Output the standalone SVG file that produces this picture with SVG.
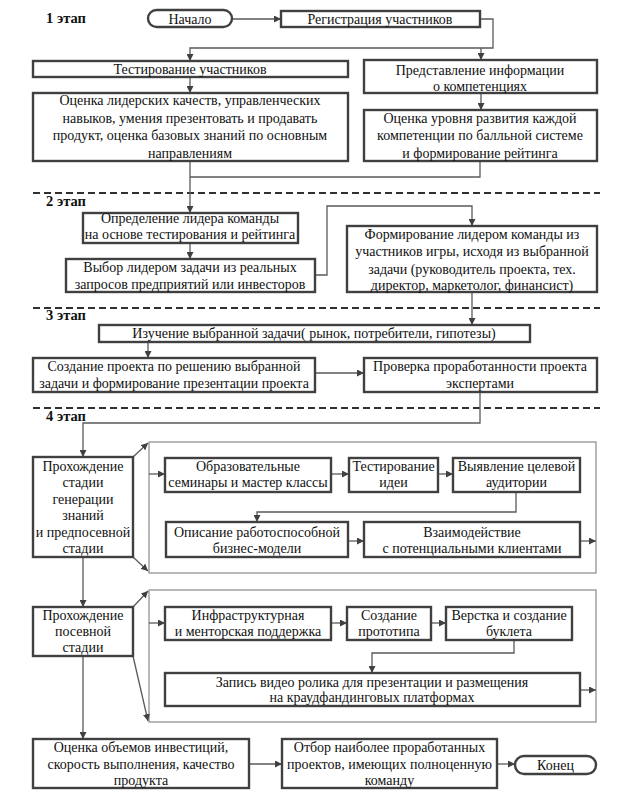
<svg xmlns="http://www.w3.org/2000/svg" width="626" height="794" viewBox="0 0 626 794" font-family="'Liberation Serif', 'DejaVu Serif', 'Times New Roman', serif">
<defs>
<marker id="ar" markerWidth="7" markerHeight="7" refX="7" refY="3.5" orient="auto" markerUnits="userSpaceOnUse">
<path d="M0,0 L7,3.5 L0,7 z" fill="#404040"/>
</marker>
<style>
.b{fill:#fff;stroke:#404040;stroke-width:2.4}
.f{fill:none;stroke:#8a8a8a;stroke-width:1.2}
.c{fill:none;stroke:#5a5a5a;stroke-width:1.3}
.a{marker-end:url(#ar)}
.d{stroke:#303030;stroke-width:2;stroke-dasharray:7,4;fill:none}
text{font-family:'Liberation Serif','DejaVu Serif','Times New Roman',serif;font-size:14px;fill:#111;text-anchor:middle}
.s{font-weight:bold;font-size:14.5px;text-anchor:start}
</style>
</defs>
<rect width="626" height="794" fill="#fff"/>
<g id="dividers">
<line class="d" x1="33" y1="193" x2="600" y2="193"/>
<line class="d" x1="33" y1="308" x2="600" y2="308"/>
<line class="d" x1="33" y1="408" x2="600" y2="408"/>
<text class="s" x="46" y="23">1 этап</text>
<text class="s" x="46" y="206">2 этап</text>
<text class="s" x="46" y="320">3 этап</text>
<text class="s" x="46" y="421">4 этап</text>
</g>
<g id="frames">
<rect class="f" x="149" y="442" width="447" height="131"/>
<rect class="f" x="149" y="590" width="447" height="132"/>
</g>
<g id="connectors">
<path class="c a" d="M232,19 H281"/>
<path class="c a" d="M480,19 H493 V48 H190 V61"/>
<path class="c a" d="M481,48 V60"/>
<path class="c a" d="M190,77 V93"/>
<path class="c a" d="M481,93 V110"/>
<path class="c a" d="M190,161 V213"/>
<path class="c" d="M480,161 V177 H190"/>
<path class="c a" d="M190,243 V259"/>
<path class="c a" d="M315,275 H327 V206 H472 V226"/>
<path class="c a" d="M472,292 V325"/>
<path class="c a" d="M148,342 V358"/>
<path class="c a" d="M315,373 H364"/>
<path class="c a" d="M480,392 V423 H83 V457"/>
<path class="c a" d="M133,457 L148,443"/>
<path class="c a" d="M133,557 L148,571"/>
<path class="c a" d="M149,474 H165"/>
<path class="c a" d="M331,474 H349"/>
<path class="c a" d="M438,474 H453"/>
<path class="c a" d="M516,492 V512 H257 V522"/>
<path class="c a" d="M348,541 H364"/>
<path class="c a" d="M580,541 H596"/>
<path class="c a" d="M83,557 V607"/>
<path class="c a" d="M133,607 L148,591"/>
<path class="c a" d="M133,656 L148,721"/>
<path class="c a" d="M149,623 H165"/>
<path class="c a" d="M331,623 H347"/>
<path class="c a" d="M431,623 H446"/>
<path class="c a" d="M514,640 V653 H372 V673"/>
<path class="c a" d="M580,690 H596"/>
<path class="c a" d="M83,656 V739"/>
<path class="c a" d="M249,764 H282"/>
<path class="c a" d="M497,764 H515"/>
</g>
<g id="start"><rect class="b" x="148" y="10" width="84" height="17" rx="8.5"/><text x="190" y="23.5">Начало</text></g>
<g id="registration"><rect class="b" x="281" y="11" width="199" height="16"/><text x="380" y="23.5">Регистрация участников</text></g>
<g id="testing"><rect class="b" x="33" y="61" width="315" height="16"/><text x="190" y="73.5">Тестирование участников</text></g>
<g id="info"><rect class="b" x="364" y="60" width="233" height="33"/><text x="480" y="75">Представление информации</text><text x="480" y="91">о компетенциях</text></g>
<g id="leader-eval"><rect class="b" x="33" y="93" width="315" height="68"/><text x="190" y="105">Оценка лидерских качеств, управленческих</text><text x="190" y="122.5">навыков, умения презентовать и продавать</text><text x="190" y="140">продукт,  оценка базовых знаний по основным</text><text x="190" y="157.5">направлениям</text></g>
<g id="comp-eval"><rect class="b" x="364" y="110" width="233" height="51"/><text x="480" y="122.5">Оценка уровня развития каждой</text><text x="480" y="140">компетенции по балльной системе</text><text x="480" y="157.5">и  формирование рейтинга</text></g>
<g id="leader-def"><rect class="b" x="83" y="213" width="215" height="30"/><text x="190" y="223">Определение лидера команды</text><text x="190" y="239">на основе тестирования и рейтинга</text></g>
<g id="task-choice"><rect class="b" x="66" y="259" width="249" height="33"/><text x="190" y="271.5">Выбор лидером задачи из реальных</text><text x="190" y="288.5">запросов предприятий или инвесторов</text></g>
<g id="team"><rect class="b" x="347" y="226" width="250" height="66"/><text x="472" y="238.5">Формирование лидером команды из</text><text x="472" y="256">участников игры, исходя из выбранной</text><text x="472" y="273.5">задачи (руководитель проекта, тех.</text><text x="472" y="290">директор, маркетолог, финансист)</text></g>
<g id="study"><rect class="b" x="99" y="325" width="431" height="17"/><text x="314" y="338">Изучение выбранной задачи( рынок, потребители, гипотезы)</text></g>
<g id="create"><rect class="b" x="33" y="358" width="282" height="34"/><text x="174" y="370.5">Создание проекта по решению выбранной</text><text x="174" y="387.5">задачи и формирование презентации проекта</text></g>
<g id="check"><rect class="b" x="364" y="358" width="233" height="34"/><text x="480" y="370.5">Проверка проработанности проекта</text><text x="480" y="387.5">экспертами</text></g>
<g id="pass1"><rect class="b" x="33" y="457" width="100" height="100"/><text x="83" y="470.5">Прохождение</text><text x="83" y="487">стадии</text><text x="83" y="503.5">генерации</text><text x="83" y="520">знаний</text><text x="83" y="536.5">и предпосевной</text><text x="83" y="553">стадии</text></g>
<g id="edu"><rect class="b" x="165" y="458" width="166" height="34"/><text x="248" y="470.5">Образовательные</text><text x="248" y="486.5">семинары и мастер классы</text></g>
<g id="test-idea"><rect class="b" x="349" y="458" width="89" height="34"/><text x="393.5" y="470.5">Тестирование</text><text x="393.5" y="486.5">идеи</text></g>
<g id="audience"><rect class="b" x="453" y="458" width="127" height="34"/><text x="516.5" y="470.5">Выявление целевой</text><text x="516.5" y="486.5">аудитории</text></g>
<g id="model"><rect class="b" x="166" y="522" width="182" height="35"/><text x="257" y="537">Описание работоспособной</text><text x="257" y="553">бизнес-модели</text></g>
<g id="interact"><rect class="b" x="364" y="522" width="216" height="35"/><text x="472" y="537">Взаимодействие</text><text x="472" y="553">с потенциальными клиентами</text></g>
<g id="pass2"><rect class="b" x="33" y="607" width="100" height="49"/><text x="83" y="619.5">Прохождение</text><text x="83" y="636">посевной</text><text x="83" y="652">стадии</text></g>
<g id="infra"><rect class="b" x="165" y="607" width="166" height="33"/><text x="248" y="619.5">Инфраструктурная</text><text x="248" y="636">и менторская поддержка</text></g>
<g id="proto"><rect class="b" x="347" y="607" width="84" height="33"/><text x="389" y="619.5">Создание</text><text x="389" y="636">прототипа</text></g>
<g id="booklet"><rect class="b" x="446" y="607" width="126" height="33"/><text x="509" y="619.5">Верстка и создание</text><text x="509" y="636">буклета</text></g>
<g id="video"><rect class="b" x="165" y="673" width="415" height="33"/><text x="372" y="686.5">Запись видео ролика для презентации и размещения</text><text x="372" y="702">на краудфандинговых платформах</text></g>
<g id="invest"><rect class="b" x="33" y="739" width="216" height="49"/><text x="141" y="751.5">Оценка объемов инвестиций,</text><text x="141" y="768.5">скорость выполнения, качество</text><text x="141" y="785">продукта</text></g>
<g id="select"><rect class="b" x="282" y="739" width="215" height="49"/><text x="389.5" y="751.5">Отбор наиболее проработанных</text><text x="389.5" y="768.5">проектов, имеющих полноценную</text><text x="389.5" y="785">команду</text></g>
<g id="end"><rect class="b" x="515" y="756" width="81" height="18" rx="9"/><text x="555.5" y="769.5">Конец</text></g>
</svg>
